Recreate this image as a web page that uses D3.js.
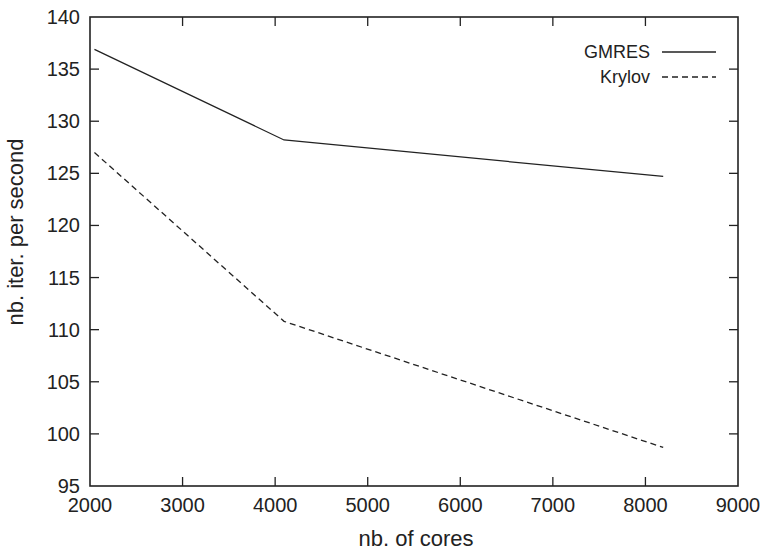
<!DOCTYPE html>
<html>
<head>
<meta charset="utf-8">
<script src="https://cdn.jsdelivr.net/npm/d3@7"></script>
<style>
  body { margin: 0; background: #fff; }
  svg text { font-family: "Liberation Sans", Arial, sans-serif; fill: #222; }
</style>
</head>
<body>
<svg id="chart" width="766" height="552"></svg>
<script>
/* ── Data ─────────────────────────────────────────────────────────────────── */
const cores   = [2048, 4096, 8192];
const gmres   = [136.9, 128.2, 124.7];
const krylov  = [127.0, 110.8, 98.7];
const xTicks  = [2000, 3000, 4000, 5000, 6000, 7000, 8000, 9000];
const yTicks  = [95, 100, 105, 110, 115, 120, 125, 130, 135, 140];
const series  = [
  { name: "GMRES",  values: gmres,  dash: null },
  { name: "Krylov", values: krylov, dash: "6,4" },
];

/* ── Layout ───────────────────────────────────────────────────────────────── */
const M = { left: 90, right: 738, top: 17, bottom: 486 };
const svg = d3.select("#chart");

const x = d3.scaleLinear().domain([2000, 9000]).range([M.left, M.right]);
const y = d3.scaleLinear().domain([95, 140]).range([M.bottom, M.top]);
const TICK = 9;

/* ── Frame & ticks (gnuplot-style mirrored inward ticks) ─────────────────── */
const g = svg.append("g").attr("stroke", "#222").attr("stroke-width", 1.3);

g.selectAll("line.xt").data(xTicks.slice(1, -1)).join("line")
  .attr("x1", d => x(d)).attr("x2", d => x(d))
  .attr("y1", M.bottom).attr("y2", M.bottom - TICK);
g.selectAll("line.xt2").data(xTicks.slice(1, -1)).join("line")
  .attr("x1", d => x(d)).attr("x2", d => x(d))
  .attr("y1", M.top).attr("y2", M.top + TICK);
g.selectAll("line.yt").data(yTicks.slice(1, -1)).join("line")
  .attr("x1", M.left).attr("x2", M.left + TICK)
  .attr("y1", d => y(d)).attr("y2", d => y(d));
g.selectAll("line.yt2").data(yTicks.slice(1, -1)).join("line")
  .attr("x1", M.right).attr("x2", M.right - TICK)
  .attr("y1", d => y(d)).attr("y2", d => y(d));

svg.append("rect")
  .attr("x", M.left).attr("y", M.top)
  .attr("width", M.right - M.left).attr("height", M.bottom - M.top)
  .attr("fill", "none").attr("stroke", "#222").attr("stroke-width", 1.6);

/* ── Tick labels ──────────────────────────────────────────────────────────── */
svg.selectAll("text.xl").data(xTicks).join("text")
  .attr("x", d => x(d)).attr("y", M.bottom + 26)
  .attr("text-anchor", "middle").attr("font-size", 20)
  .text(d => d);

svg.selectAll("text.yl").data(yTicks).join("text")
  .attr("x", M.left - 10).attr("y", d => y(d))
  .attr("dy", "0.35em")
  .attr("text-anchor", "end").attr("font-size", 20)
  .text(d => d);

/* ── Axis titles ──────────────────────────────────────────────────────────── */
svg.append("text")
  .attr("x", 416).attr("y", 546)
  .attr("text-anchor", "middle").attr("font-size", 22)
  .text("nb. of cores");

svg.append("text")
  .attr("transform", "translate(23,232) rotate(-90)")
  .attr("text-anchor", "middle").attr("font-size", 22)
  .text("nb. iter. per second");

/* ── Lines ────────────────────────────────────────────────────────────────── */
const line = d3.line().x((d, i) => x(cores[i])).y(d => y(d));

svg.selectAll("path.series").data(series).join("path")
  .attr("d", d => line(d.values))
  .attr("fill", "none").attr("stroke", "#222").attr("stroke-width", 1.3)
  .attr("stroke-dasharray", d => d.dash);

/* ── Legend ───────────────────────────────────────────────────────────────── */
const leg = svg.append("g");
series.forEach((s, i) => {
  const ly = 52 + i * 25;
  leg.append("text")
    .attr("x", 650).attr("y", ly).attr("dy", "0.35em")
    .attr("text-anchor", "end").attr("font-size", 18)
    .text(s.name);
  leg.append("line")
    .attr("x1", 662).attr("x2", 716).attr("y1", ly).attr("y2", ly)
    .attr("stroke", "#222").attr("stroke-width", 1.3)
    .attr("stroke-dasharray", s.dash);
});
</script>
</body>
</html>
